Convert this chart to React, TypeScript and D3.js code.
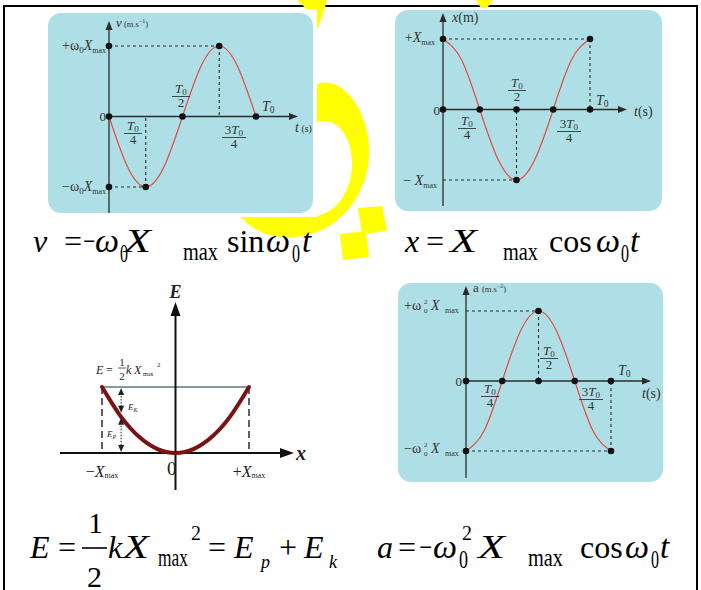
import React from "react";
import * as d3 from "d3";

// One period of the harmonic oscillator, sampled at eighths of T0
const phase = [0, 0.125, 0.25, 0.375, 0.5, 0.625, 0.75, 0.875, 1];
const velocity = [0, -0.71, -1, -0.71, 0, 0.71, 1, 0.71, 0];
const position = [1, 0.71, 0, -0.71, -1, -0.71, 0, 0.71, 1];
const acceleration = [-1, -0.71, 0, 0.71, 1, 0.71, 0, -0.71, -1];

// Potential energy against elongation (in units of Xmax and E)
const elongation = [-1, -0.75, -0.5, -0.25, 0, 0.25, 0.5, 0.75, 1];
const potential = [1, 0.5625, 0.25, 0.0625, 0, 0.0625, 0.25, 0.5625, 1];
const energyLevel = 1;
const turningPoints = [-1, 1];
const energyProbe = -0.74;

// Highlighted points [t/T0, value]
const velocityDots = [[0, 0], [0.5, 0], [1, 0], [0.25, -1], [0.75, 1], [0, 1], [0, -1]];
const positionDots = [[0, 1], [0, 0], [0.25, 0], [0.5, 0], [0.75, 0], [1, 0], [1, 1], [0.5, -1]];
const accelerationDots = [[0, -1], [0, 0], [0.25, 0], [0.5, 0], [0.75, 0], [1, 0], [0.5, 1], [1, -1]];

// Extremes that get dashed projections onto both axes
const velocityPeaks = [[0.25, -1], [0.75, 1]];
const positionPeaks = [[1, 1], [0.5, -1]];
const accelerationPeaks = [[0.5, 1], [1, -1]];

const SERIF = "'Liberation Serif','Times New Roman',serif";
const INK = "#2b2b2b";
const PANEL = "#aedfe6";
const RED = "#e5493f";
const YELLOW = "#ffff00";

type Pt = number[];

function Panel(props: {
  box: number[];
  xr: number[];
  yr: number[];
  top: number;
  bottom: number;
  right: number;
  values: number[];
  dots: Pt[];
  peaks: Pt[];
  children?: React.ReactNode;
}) {
  const { box, xr, yr, top, bottom, right, values, dots, peaks, children } = props;
  const x = d3.scaleLinear().domain([0, 1]).range(xr);
  const y = d3.scaleLinear().domain([-1, 1]).range(yr);
  const path = d3
    .line<number>()
    .x((_, i) => x(phase[i]))
    .y((d) => y(d))
    .curve(d3.curveNatural)(values) as string;
  const x0 = x(0);
  const y0 = y(0);
  return (
    <g>
      <rect x={box[0]} y={box[1]} width={box[2]} height={box[3]} rx={13} fill={PANEL} />
      {peaks.map(([t, v], i) => (
        <g key={i} stroke={INK} strokeWidth={1.1} strokeDasharray="3,3">
          <line x1={x0} x2={x(t)} y1={y(v)} y2={y(v)} />
          <line x1={x(t)} x2={x(t)} y1={y(v)} y2={y0} />
        </g>
      ))}
      <line x1={x0} x2={x0} y1={bottom} y2={top + 4} stroke={INK} strokeWidth={1.3} />
      <path d={`M${x0 - 3.5},${top + 9}L${x0},${top}L${x0 + 3.5},${top + 9}Z`} fill={INK} />
      <line x1={x0} x2={right - 4} y1={y0} y2={y0} stroke={INK} strokeWidth={1.3} />
      <path d={`M${right - 9},${y0 - 3.5}L${right},${y0}L${right - 9},${y0 + 3.5}Z`} fill={INK} />
      <path d={path} fill="none" stroke={RED} strokeWidth={1.2} />
      {dots.map(([t, v], i) => (
        <circle key={i} cx={x(t)} cy={y(v)} r={3.3} fill="#111" />
      ))}
      <g fontFamily={SERIF} fill="#333">{children}</g>
    </g>
  );
}

function Frac(props: { cx: number; y: number; den: string; pre?: string; size?: number; barW?: number }) {
  const { cx, y, den, pre = "", size = 13, barW = 18 } = props;
  return (
    <g>
      <text x={cx} y={y} textAnchor="middle" fontSize={size}>
        {pre}
        <tspan fontStyle="italic">T</tspan>
        <tspan fontSize={size * 0.7} dy={2}>0</tspan>
      </text>
      <line x1={cx - barW / 2} x2={cx + barW / 2} y1={y + 3.5} y2={y + 3.5} stroke="#333" strokeWidth={0.9} />
      <text x={cx} y={y + 14} textAnchor="middle" fontSize={size}>
        {den}
      </text>
    </g>
  );
}

function Period(props: { x: number; y: number }) {
  return (
    <text x={props.x} y={props.y} fontSize={14}>
      <tspan fontStyle="italic">T</tspan>
      <tspan fontSize={9.5} dy={2}>0</tspan>
    </text>
  );
}

function TimeLabel(props: { x: number; y: number; small?: boolean }) {
  return (
    <text x={props.x} y={props.y} fontSize={14}>
      <tspan fontStyle="italic">t</tspan>
      <tspan fontSize={props.small ? 10 : 14}>{props.small ? " (s)" : "(s)"}</tspan>
    </text>
  );
}

function Arrow2(props: { x: number; y1: number; y2: number }) {
  const { x, y1, y2 } = props;
  return (
    <g>
      <line x1={x} x2={x} y1={y1 + 5} y2={y2 - 5} stroke="#333" strokeWidth={1.1} strokeDasharray="1.5,1.5" />
      <path d={`M${x - 3},${y1 + 7}L${x},${y1}L${x + 3},${y1 + 7}Z`} fill="#222" />
      <path d={`M${x - 3},${y2 - 7}L${x},${y2}L${x + 3},${y2 - 7}Z`} fill="#222" />
    </g>
  );
}

function EnergyPanel() {
  const x = d3.scaleLinear().domain([-1, 1]).range([102, 249]);
  const y = d3.scaleLinear().domain([0, 1]).range([453, 387]);
  const path = d3
    .line<number>()
    .x((_, i) => x(elongation[i]))
    .y((d) => y(d))
    .curve(d3.curveNatural)(potential) as string;
  const x0 = x(0);
  const y0 = y(0);
  const yE = y(energyLevel);
  const px = x(energyProbe);
  const py = y(energyProbe * energyProbe);
  return (
    <g>
      {turningPoints.map((u) => (
        <line key={u} x1={x(u)} x2={x(u)} y1={yE} y2={y0} stroke="#3a3a3a" strokeWidth={1.6} strokeDasharray="7,4" />
      ))}
      <line x1={x(-1)} x2={x(1)} y1={yE} y2={yE} stroke="#5f7680" strokeWidth={1.5} />
      <line x1={x0} x2={x0} y1={490} y2={310} stroke="#111" strokeWidth={2} />
      <path d={`M${x0 - 5},${316}L${x0},${302}L${x0 + 5},${316}Z`} fill="#111" />
      <line x1={60} x2={285} y1={y0} y2={y0} stroke="#111" strokeWidth={2} />
      <path d={`M${280},${y0 - 5}L${294},${y0}L${280},${y0 + 5}Z`} fill="#111" />
      <path d={path} fill="none" stroke="#7a1212" strokeWidth={4} strokeLinecap="round" />
      <Arrow2 x={px} y1={yE + 1} y2={py - 4} />
      <Arrow2 x={px} y1={py + 1} y2={y0 - 1} />
      <g fontFamily={SERIF} fill="#222">
        <text x={x0} y={298} textAnchor="middle" fontSize={18} fontStyle="italic" fontWeight="bold">E</text>
        <text x={296} y={460} fontSize={20} fontStyle="italic" fontWeight="bold">x</text>
        <text x={96} y={374} fontSize={12} fontStyle="italic">E</text>
        <text x={106} y={374} fontSize={12}>=</text>
        <text x={122} y={366} fontSize={11} textAnchor="middle">1</text>
        <line x1={118} x2={126} y1={368} y2={368} stroke="#333" strokeWidth={0.8} />
        <text x={122} y={380} fontSize={11} textAnchor="middle">2</text>
        <text x={126} y={374} fontSize={12} fontStyle="italic">k</text>
        <text x={134} y={374} fontSize={12} fontStyle="italic">X</text>
        <text x={143} y={376} fontSize={6}>max</text>
        <text x={157} y={367} fontSize={7}>2</text>
        <text x={px + 7} y={410} fontSize={9} fontStyle="italic">
          E<tspan fontSize={6} dy={2}>K</tspan>
        </text>
        <text x={px - 14} y={437} fontSize={9} fontStyle="italic">
          E<tspan fontSize={6} dy={2}>P</tspan>
        </text>
        <text x={x(-1)} y={477} fontSize={16} textAnchor="middle">
          −<tspan fontStyle="italic">X</tspan>
          <tspan fontSize={8} dy={1}>max</tspan>
        </text>
        <text x={167} y={475} fontSize={19}>0</text>
        <text x={x(1)} y={477} fontSize={16} textAnchor="middle">
          +<tspan fontStyle="italic">X</tspan>
          <tspan fontSize={8} dy={1}>max</tspan>
        </text>
      </g>
    </g>
  );
}

// [text, x, baseline, font size, squeezed width (0 = natural), italic, horizontal scale]
type Glyph = [string, number, number, number, number, number?, number?];

function Formula(props: { items: Glyph[] }) {
  return (
    <g fontFamily={SERIF} fill="#000">
      {props.items.map(([t, x, y, s, w, it, sx], i) => (
        <text
          key={i}
          transform={`translate(${x},${y}) scale(${sx || 1},1)`}
          fontSize={s}
          fontStyle={it ? "italic" : "normal"}
          textLength={w || undefined}
          lengthAdjust={w ? "spacingAndGlyphs" : undefined}
        >
          {t}
        </text>
      ))}
    </g>
  );
}

const formulaV: Glyph[] = [
  ["v", 33, 252, 32, 0, 1],
  ["=", 64, 252, 32, 0],
  ["−", 83, 252, 32, 12],
  ["ω", 95, 252, 34, 0, 1],
  ["0", 120, 262, 26, 8],
  ["X", 124, 252, 34, 0, 1, 1.3],
  ["max", 183, 260, 26, 35],
  ["sin", 227, 252, 32, 0],
  ["ω", 266, 252, 34, 0, 1],
  ["0", 292, 262, 26, 8],
  ["t", 302, 252, 33, 0, 1],
];

const formulaX: Glyph[] = [
  ["x", 405, 252, 32, 0, 1],
  ["=", 426, 252, 32, 0],
  ["X", 450, 252, 34, 0, 1, 1.3],
  ["max", 503, 260, 26, 35],
  ["cos", 549, 252, 32, 0],
  ["ω", 596, 252, 34, 0, 1],
  ["0", 621, 262, 26, 8],
  ["t", 630, 252, 33, 0, 1],
];

const formulaE: Glyph[] = [
  ["E", 30, 558, 32, 0, 1],
  ["=", 58, 558, 32, 0],
  ["1", 88, 533, 30, 0],
  ["2", 87, 587, 30, 0],
  ["k", 108, 558, 32, 0, 1],
  ["X", 123, 558, 34, 0, 1, 1.25],
  ["max", 158, 566, 26, 30],
  ["2", 191, 540, 20, 0],
  ["=", 208, 558, 32, 0],
  ["E", 234, 558, 32, 0, 1],
  ["p", 261, 568, 18, 0, 1],
  ["+", 279, 558, 32, 0],
  ["E", 304, 558, 32, 0, 1],
  ["k", 329, 568, 18, 0, 1],
];

const formulaA: Glyph[] = [
  ["a", 377, 558, 32, 0, 1],
  ["=", 398, 558, 32, 0],
  ["−", 419, 558, 32, 13],
  ["ω", 433, 558, 34, 0, 1],
  ["0", 459, 568, 26, 9],
  ["2", 462, 540, 20, 0],
  ["X", 478, 558, 34, 0, 1, 1.3],
  ["max", 528, 566, 26, 35],
  ["cos", 580, 558, 32, 0],
  ["ω", 625, 558, 34, 0, 1],
  ["0", 651, 568, 26, 8],
  ["t", 660, 558, 33, 0, 1],
];

export default function App() {
  return (
    <svg
      width={701}
      height={590}
      viewBox="0 0 701 590"
      style={{ position: "absolute", left: 0, top: 0, background: "#fff" }}
    >
      <rect x={0} y={0} width={701} height={590} fill="#fff" />
      {/* page frame */}
      <line x1={4} x2={698} y1={6} y2={6} stroke="#000" strokeWidth={2} />
      <line x1={4} x2={4} y1={5} y2={590} stroke="#000" strokeWidth={2} />
      <line x1={697} x2={697} y1={5} y2={590} stroke="#000" strokeWidth={2} />

      {/* watermark */}
      <g fill={YELLOW}>
        <path d="M297,0L327,0Q323,15 318,28L313,27Q311,10 297,0Z" />
        <path d="M476,0L493,0L487,8L481,8Z" />
        <path d="M317,84C346,74 372,118 369,158C366,198 336,236 292,237C268,238 250,229 240,216L317,216C337,212 353,190 352,161C351,136 337,116 317,122Z" />
        <path d="M358,208L382,206L387,231L362,234Z" />
        <path d="M340,234L366,231L369,257L343,260Z" />
      </g>
      <rect x={40} y={9} width={277} height={208} fill="#fff" />

      <Panel
        box={[48, 13, 265, 200]}
        xr={[109, 256]}
        yr={[187, 46]}
        top={21}
        bottom={213}
        right={298}
        values={velocity}
        dots={velocityDots}
        peaks={velocityPeaks}
      >
        <text x={116} y={27} fontSize={13} fontStyle="italic">v</text>
        <text x={124} y={27} fontSize={8.5}>
          (m.s<tspan fontSize={6} dy={-4}>−1</tspan>
          <tspan dy={4}>)</tspan>
        </text>
        <text x={106} y={50} fontSize={14} textAnchor="end">
          +ω<tspan fontSize={9} dy={3}>0</tspan>
          <tspan fontStyle="italic" dy={-3}>X</tspan>
          <tspan fontSize={8} dy={3}>max</tspan>
        </text>
        <text x={106} y={191} fontSize={14} textAnchor="end">
          −ω<tspan fontSize={9} dy={3}>0</tspan>
          <tspan fontStyle="italic" dy={-3}>X</tspan>
          <tspan fontSize={8} dy={3}>max</tspan>
        </text>
        <text x={106} y={121} fontSize={13} textAnchor="end">0</text>
        <Frac cx={133} y={130} den="4" />
        <Frac cx={181} y={93} den="2" />
        <Frac cx={234} y={134} den="4" pre="3" barW={24} />
        <Period x={262} y={111} />
        <TimeLabel x={295} y={132} small />
      </Panel>

      <Panel
        box={[395, 10, 267, 201]}
        xr={[443, 590]}
        yr={[180, 39]}
        top={13}
        bottom={206}
        right={627}
        values={position}
        dots={positionDots}
        peaks={positionPeaks}
      >
        <text x={452} y={22} fontSize={14}>
          <tspan fontStyle="italic">x</tspan>(m)
        </text>
        <text x={435} y={42} fontSize={14} textAnchor="end">
          +<tspan fontStyle="italic">X</tspan>
          <tspan fontSize={8} dy={3}>max</tspan>
        </text>
        <text x={437} y={185} fontSize={14} textAnchor="end">
          −<tspan fontStyle="italic"> X</tspan>
          <tspan fontSize={8} dy={3}>max</tspan>
        </text>
        <text x={440} y={115} fontSize={13} textAnchor="end">0</text>
        <Frac cx={467} y={125} den="4" />
        <Frac cx={517} y={87} den="2" />
        <Frac cx={569} y={128} den="4" pre="3" barW={24} />
        <Period x={596} y={105} />
        <TimeLabel x={634} y={116} />
      </Panel>

      <EnergyPanel />

      <Panel
        box={[398, 283, 265, 199]}
        xr={[466, 611]}
        yr={[451, 311]}
        top={286}
        bottom={478}
        right={651}
        values={acceleration}
        dots={accelerationDots}
        peaks={accelerationPeaks}
      >
        <text x={473} y={292} fontSize={13}>a</text>
        <text x={482} y={292} fontSize={8.5}>
          (m.s<tspan fontSize={6} dy={-4}>−2</tspan>
          <tspan dy={4}>)</tspan>
        </text>
        <text x={404} y={310} fontSize={14}>+ω</text>
        <text x={424} y={304} fontSize={7}>2</text>
        <text x={424} y={313} fontSize={7}>0</text>
        <text x={431} y={310} fontSize={14} fontStyle="italic">X</text>
        <text x={445} y={313} fontSize={8}>max</text>
        <text x={404} y={453} fontSize={14}>−ω</text>
        <text x={424} y={447} fontSize={7}>2</text>
        <text x={424} y={456} fontSize={7}>0</text>
        <text x={431} y={453} fontSize={14} fontStyle="italic">X</text>
        <text x={445} y={456} fontSize={8}>max</text>
        <text x={462} y={386} fontSize={13} textAnchor="end">0</text>
        <Frac cx={490} y={393} den="4" />
        <Frac cx={549} y={355} den="2" />
        <Frac cx={591} y={396} den="4" pre="3" barW={24} />
        <Period x={618} y={375} />
        <TimeLabel x={642} y={398} />
      </Panel>

      <Formula items={formulaV} />
      <Formula items={formulaX} />
      <Formula items={formulaE} />
      <line x1={82} x2={107} y1={548} y2={548} stroke="#000" strokeWidth={1.6} />
      <Formula items={formulaA} />
    </svg>
  );
}
